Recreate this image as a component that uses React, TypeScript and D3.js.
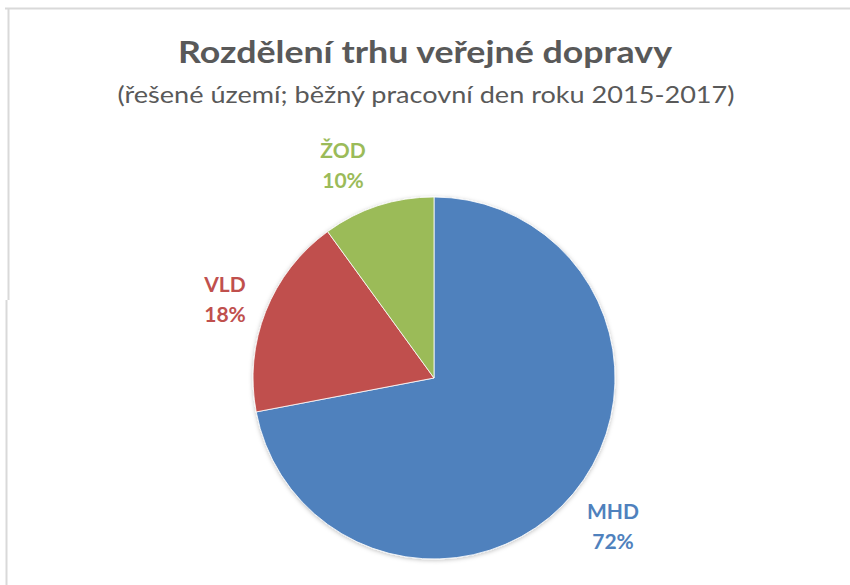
import React from "react";
import * as d3 from "d3";

const categories = ["MHD", "VLD", "ŽOD"];
const shares = [72, 18, 10];
const colors = ["#4F81BD", "#C0504D", "#9BBB59"];
const labelPos: [number, number][] = [[613, 519], [225, 292], [343, 158]];
const titleText = "Rozdělení trhu veřejné dopravy";
const subtitleText = "(řešené území; běžný pracovní den roku 2015-2017)";

export default function App() {
  const W = 850, H = 585;
  const cx = 434, cy = 378, r = 181;
  const pie = d3.pie<number>().sort(null).value((d) => d);
  const arcs = pie(shares);
  const arc = d3.arc<d3.PieArcDatum<number>>().innerRadius(0).outerRadius(r);
  const font = "Lato, 'Open Sans', sans-serif";
  return (
    <svg width={W} height={H} style={{ position: "absolute", left: 0, top: 0, background: "#fff" }}>
      <defs>
        <filter id="sh" x="-20%" y="-20%" width="140%" height="140%">
          <feDropShadow dx="0" dy="1" stdDeviation="2" floodColor="#000" floodOpacity="0.25" />
        </filter>
      </defs>
      <rect x={0} y={0} width={W} height={H} fill="#fff" />
      <path d={`M5,8.5 H850`} stroke="#d9d9d9" strokeWidth={2} fill="none" />
      <path d={`M8.5,8 V300`} stroke="#d9d9d9" strokeWidth={2} fill="none" />
      <path d={`M6.5,300 V585`} stroke="#d9d9d9" strokeWidth={2} fill="none" />
      <text x={425} y={63} textAnchor="middle" fontFamily={font} fontWeight="bold" fontSize={31}
        fill="#595959" textLength={494} lengthAdjust="spacingAndGlyphs">{titleText}</text>
      <text x={426} y={103} textAnchor="middle" fontFamily={font} fontSize={24}
        fill="#595959" textLength={617} lengthAdjust="spacingAndGlyphs">{subtitleText}</text>
      <g transform={`translate(${cx},${cy})`} filter="url(#sh)">
        {arcs.map((a, i) => (
          <path key={categories[i]} d={arc(a) || ""} fill={colors[i]} stroke="#fff" strokeWidth={0.8} />
        ))}
      </g>
      {categories.map((c, i) => (
        <g key={c} fontFamily={font} fontWeight="bold" fontSize={21} fill={colors[i]} textAnchor="middle">
          <text x={labelPos[i][0]} y={labelPos[i][1]}>{c}</text>
          <text x={labelPos[i][0]} y={labelPos[i][1] + 30}>{shares[i]}%</text>
        </g>
      ))}
    </svg>
  );
}
